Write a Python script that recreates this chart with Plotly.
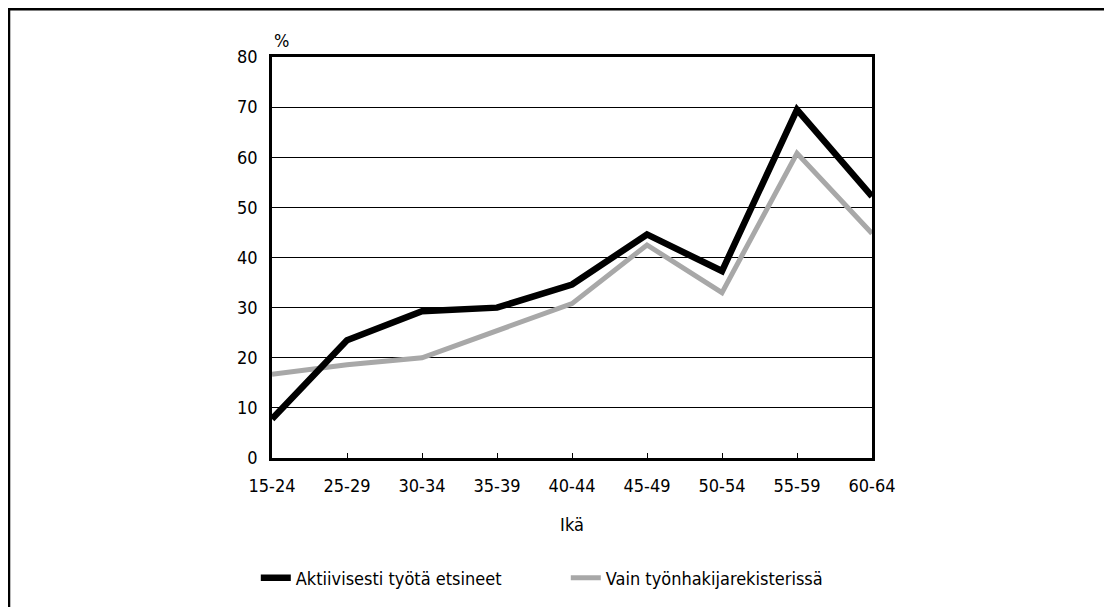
import plotly.graph_objects as go

categories = ["15-24", "25-29", "30-34", "35-39", "40-44", "45-49", "50-54", "55-59", "60-64"]
aktiivisesti = [7.8, 23.5, 29.3, 30.0, 34.6, 44.6, 37.3, 69.5, 52.2]
vain_rekisterissa = [16.7, 18.6, 20.0, 25.5, 30.8, 42.5, 33.0, 60.8, 44.8]
y_ticks = [0, 10, 20, 30, 40, 50, 60, 70, 80]

FONT = "DejaVu Sans Condensed, Liberation Sans Narrow, Arial Narrow, Liberation Sans, sans-serif"
FS = 18

fig = go.Figure()
fig.add_trace(go.Scatter(
    x=categories, y=vain_rekisterissa, mode="lines",
    name="Vain työnhakijarekisterissä",
    line=dict(color="#a8a8a8", width=5),
))
fig.add_trace(go.Scatter(
    x=categories, y=aktiivisesti, mode="lines",
    name="Aktiivisesti työtä etsineet",
    line=dict(color="#000000", width=6.5),
))

fig.update_layout(
    width=1104, height=599,
    margin=dict(l=264, r=240, t=49, b=148),
    paper_bgcolor="white", plot_bgcolor="white",
    font=dict(family=FONT, size=FS, color="#000000"),
    showlegend=True,
    legend=dict(
        orientation="h", x=-0.027, y=-0.296, xanchor="left", yanchor="middle",
        font=dict(family=FONT, size=FS, color="#000000"),
        traceorder="reversed", itemwidth=30, entrywidth=265, entrywidthmode="pixels",
        bgcolor="rgba(0,0,0,0)",
    ),
    xaxis=dict(
        type="category", categoryorder="array", categoryarray=categories,
        range=[0, 8], showgrid=False, ticks="inside", ticklen=5, tickwidth=1,
        tickcolor="#000000", showline=True, linecolor="#000000", linewidth=2.5,
        mirror=True, zeroline=False, ticklabelstandoff=10,
        tickfont=dict(family=FONT, size=FS),
        title=dict(text="Ikä", font=dict(family=FONT, size=FS), standoff=24),
    ),
    yaxis=dict(
        range=[0, 80], tickvals=y_ticks, showgrid=True, gridcolor="#000000",
        gridwidth=1, showline=True, linecolor="#000000", linewidth=2.5,
        mirror=True, zeroline=False, ticks="", ticklabelstandoff=8,
        tickfont=dict(family=FONT, size=FS),
    ),
    annotations=[dict(
        text="%", xref="paper", yref="paper", x=0.0, y=1.0,
        xanchor="left", yanchor="bottom", yshift=4, showarrow=False,
        font=dict(family=FONT, size=FS),
    )],
    shapes=[dict(
        type="rect", xref="paper", yref="paper",
        x0=-0.4383, x1=1.45, y0=-0.45, y1=1.119,
        line=dict(color="#000000", width=2.5), fillcolor="rgba(0,0,0,0)",
        layer="below",
    )],
)

fig.write_html("out.html")
